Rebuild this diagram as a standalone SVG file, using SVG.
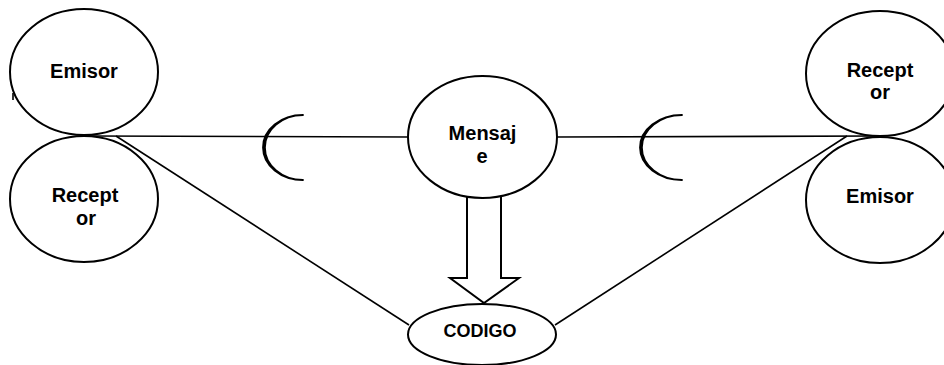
<svg xmlns="http://www.w3.org/2000/svg" width="944" height="365" viewBox="0 0 944 365">
<style>
.n{fill:#fff;stroke:#000;stroke-width:2}
.t{font-family:"Liberation Sans",Arial,sans-serif;font-weight:bold;font-size:20px;text-anchor:middle;fill:#000}
.c{stroke:#000;stroke-width:1.6;fill:none}
.b{fill:#000;stroke:#000;stroke-width:1.8;stroke-linejoin:round}
</style>
<rect width="944" height="365" fill="#fff"/>
<g id="connectors">
<line class="c" x1="88" y1="136" x2="409" y2="137"/>
<line class="c" x1="116" y1="136" x2="409" y2="325"/>
<line class="c" x1="556" y1="137" x2="878" y2="136"/>
<line class="c" x1="847" y1="136" x2="555" y2="325"/>
<line class="c" x1="13" y1="93" x2="13" y2="100"/>
<path class="b" d="M303,115 A40,32.5 0 0,0 303,180 A37.5,32 0 0,1 303,115 Z"/>
<path class="b" d="M682,115 A42,32.5 0 0,0 682,180 A39.5,32 0 0,1 682,115 Z"/>
<polygon class="n" points="467,196 501,196 501,278 519,278 484,303 450,278 467,278"/>
</g>
<g id="emisor-left">
<ellipse class="n" cx="84" cy="72" rx="74" ry="63"/>
<text class="t" x="84" y="78">Emisor</text>
</g>
<g id="receptor-left">
<ellipse class="n" cx="84" cy="199" rx="74" ry="63"/>
<text class="t" x="85" y="202">Recept</text>
<text class="t" x="86" y="225">or</text>
</g>
<g id="mensaje">
<ellipse class="n" cx="482.5" cy="137" rx="74.5" ry="61"/>
<text class="t" x="482.5" y="140">Mensaj</text>
<text class="t" x="482" y="163">e</text>
</g>
<g id="codigo">
<ellipse class="n" cx="482" cy="334.5" rx="74" ry="30.5"/>
<text class="t" x="480" y="337" style="font-size:18px">CODIGO</text>
</g>
<g id="receptor-right">
<ellipse class="n" cx="880" cy="73.5" rx="74" ry="62.5"/>
<text class="t" x="880" y="77">Recept</text>
<text class="t" x="880" y="99">or</text>
</g>
<g id="emisor-right">
<ellipse class="n" cx="880" cy="200" rx="74" ry="63"/>
<text class="t" x="880" y="203">Emisor</text>
</g>
</svg>
